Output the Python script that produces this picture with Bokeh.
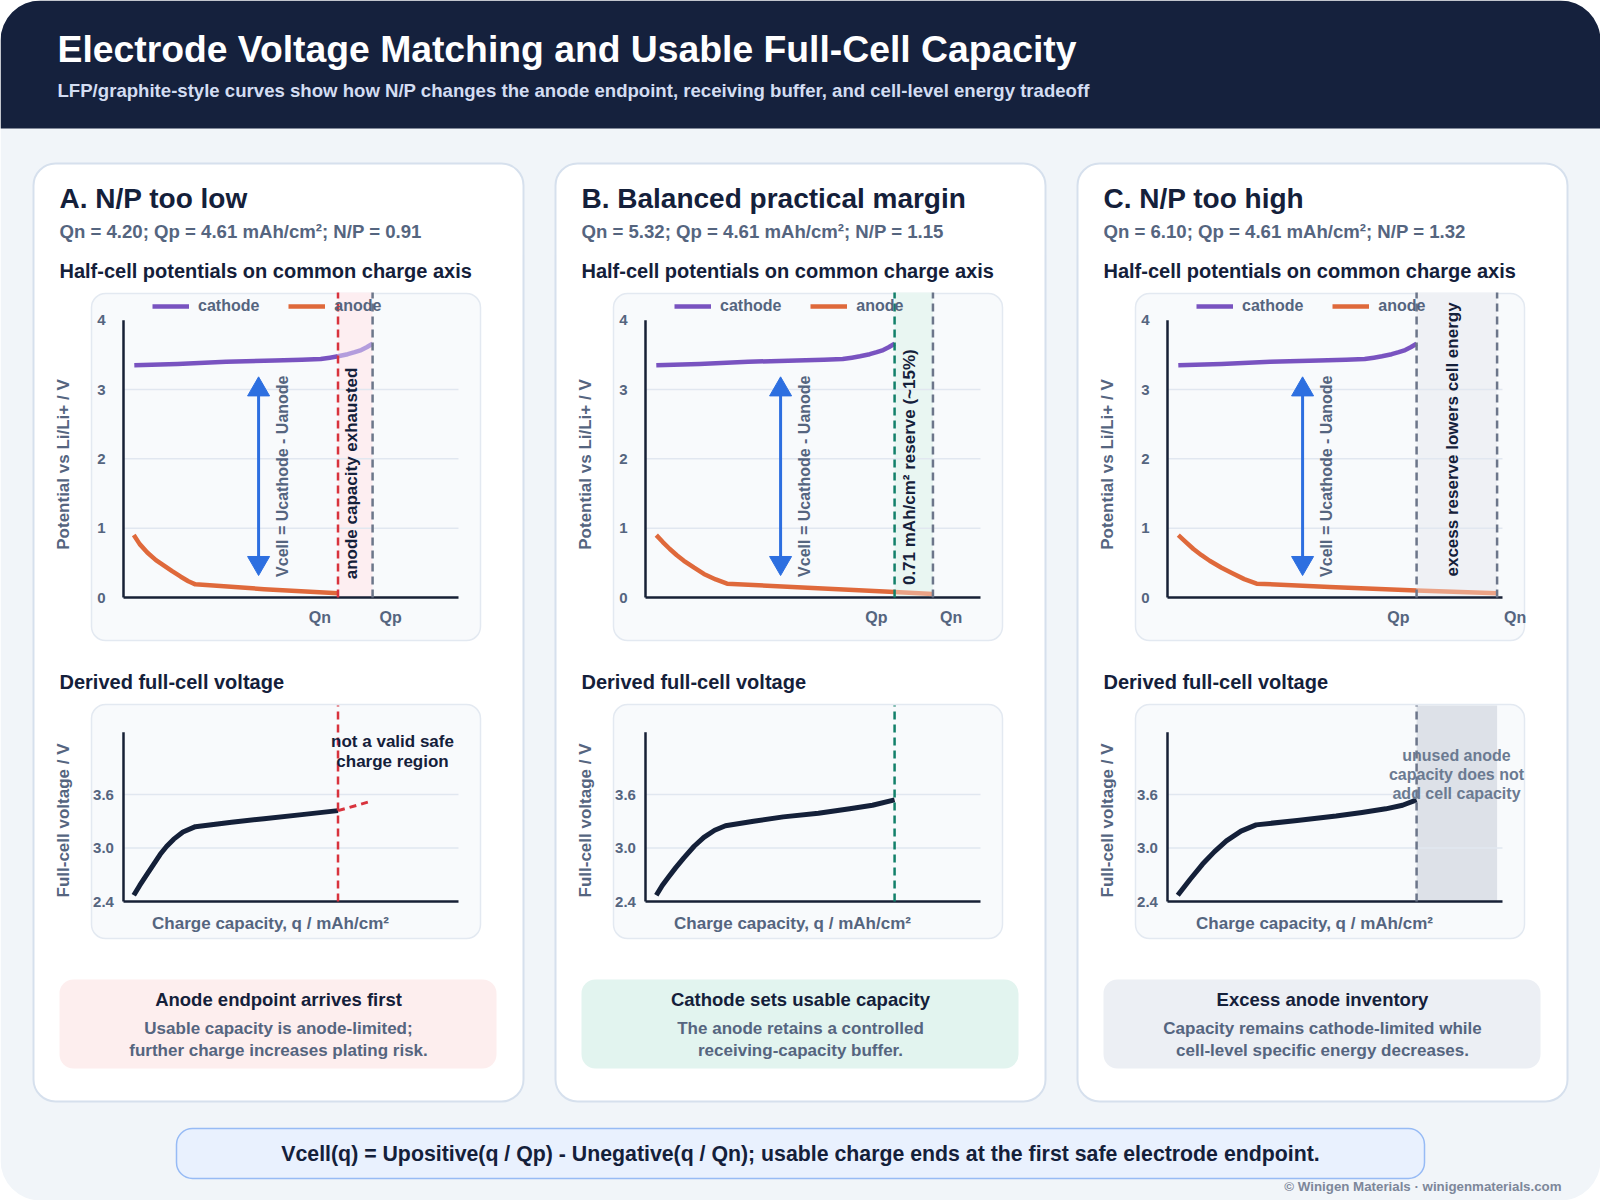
import math
from bokeh.plotting import figure
from bokeh.models import Range1d, BoxAnnotation, Legend, LegendItem
from bokeh.core.properties import value
from bokeh.embed import file_html
from bokeh.resources import INLINE

W, H = 1600, 1200
FONT = "Liberation Sans"

# ---------------- data ----------------
panel_titles = ["A. N/P too low", "B. Balanced practical margin", "C. N/P too high"]
qn_values = [4.20, 5.32, 6.10]          # mAh/cm2
qp_value = 4.61                          # mAh/cm2
np_ratios = [0.91, 1.15, 1.32]
qn_marks = [3.97, 5.32, 6.10]            # where the Qn marker sits on the charge axis
half_ticks = [0, 1, 2, 3, 4]
full_ticks = [2.4, 3.0, 3.6]
full_tick_labels = ["2.4", "3.0", "3.6"]

cathode_q = [0.20, 1.0, 1.9, 2.8, 3.3, 3.65, 3.82, 3.97, 4.15, 4.28, 4.40, 4.50, 4.61]
cathode_v = [3.35, 3.37, 3.40, 3.42, 3.43, 3.44, 3.46, 3.48, 3.51, 3.54, 3.57, 3.61, 3.66]

anode_A_q = [0.19, 0.30, 0.44, 0.60, 0.75, 0.90, 1.06, 1.20, 1.33, 2.6, 3.97]
anode_A_v = [0.90, 0.77, 0.65, 0.54, 0.46, 0.38, 0.30, 0.235, 0.19, 0.12, 0.06]
anode_B_q = [0.20, 0.32, 0.45, 0.58, 0.71, 0.90, 1.08, 1.30, 1.51, 3.0, 4.61]
anode_B_v = [0.90, 0.80, 0.70, 0.61, 0.53, 0.43, 0.34, 0.26, 0.20, 0.14, 0.08]
anode_B_ext_q = [4.61, 5.32]
anode_B_ext_v = [0.08, 0.05]
anode_C_q = [0.20, 0.34, 0.48, 0.63, 0.78, 1.00, 1.20, 1.42, 1.65, 3.0, 4.61]
anode_C_v = [0.90, 0.80, 0.70, 0.61, 0.53, 0.43, 0.35, 0.265, 0.20, 0.15, 0.10]
anode_C_ext_q = [4.61, 6.10]
anode_C_ext_v = [0.10, 0.06]

full_A_q = [0.19, 0.30, 0.44, 0.56, 0.68, 0.80, 0.93, 1.10, 1.33, 2.0, 2.6, 3.3, 3.97]
full_A_v = [2.47, 2.58, 2.71, 2.82, 2.93, 3.02, 3.10, 3.18, 3.24, 3.29, 3.33, 3.375, 3.42]
full_A_ext_q = [3.97, 4.61]
full_A_ext_v = [3.42, 3.53]
full_B_q = [0.20, 0.31, 0.42, 0.56, 0.71, 0.90, 1.08, 1.28, 1.48, 2.0, 2.55, 3.2, 3.78, 4.2, 4.61]
full_B_v = [2.47, 2.58, 2.67, 2.78, 2.89, 3.02, 3.12, 3.20, 3.25, 3.30, 3.35, 3.39, 3.44, 3.48, 3.54]
full_C_q = [0.19, 0.42, 0.65, 0.87, 1.09, 1.36, 1.64, 2.4, 3.12, 3.6, 4.04, 4.35, 4.61]
full_C_v = [2.47, 2.65, 2.82, 2.96, 3.08, 3.19, 3.26, 3.31, 3.36, 3.40, 3.44, 3.48, 3.54]

reserve_text = "0.71 mAh/cm\u00b2 reserve (~15%)"
box_titles = ["Anode endpoint arrives first", "Cathode sets usable capacity", "Excess anode inventory"]
box_lines = [["Usable capacity is anode-limited;", "further charge increases plating risk."],
             ["The anode retains a controlled", "receiving-capacity buffer."],
             ["Capacity remains cathode-limited while", "cell-level specific energy decreases."]]

# ---------------- styles ----------------
NAVY = "#15213d"
PAGE = "#f1f5f9"
DARK = "#14203a"
SLATE = "#55657f"
MUTED = "#6b7a91"
CATH = "#7953c0"
CATH_L = "#b39ddd"
ANOD = "#df693b"
ANOD_L = "#eaa286"
BLUE = "#2d6fe0"
RED = "#d8333d"
GREEN = "#12806a"
GRAYD = "#6c768a"
AXIS = "#172036"
GRID = "#e1e7f0"

p = figure(width=W, height=H, x_range=Range1d(0, W), y_range=Range1d(0, H),
           output_backend="svg", toolbar_location=None, min_border=0,
           x_axis_type=None, y_axis_type=None, background_fill_color="white",
           border_fill_color="white", outline_line_color=None)


def box(l, t, r, b, fill, line=None, lw=1.0, radius=0):
    p.add_layout(BoxAnnotation(left=l, right=r, top=H - t, bottom=H - b,
                               fill_color=fill, fill_alpha=1.0,
                               line_color=line if line else fill,
                               line_alpha=1.0 if line else 0.0, line_width=lw,
                               border_radius=radius, level="underlay"))


def label(x, y, s, size, color, align="left", baseline="middle", angle=0.0):
    p.text(x=[x], y=[H - y], text=[s], text_font=value(FONT), text_font_style="bold",
           text_font_size=f"{size}px", text_color=color, text_align=align,
           text_baseline=baseline, angle=angle)


def stext(g, x, y, s, size, color, align="center", baseline="middle", angle=0.0, xo=0, yo=0):
    g.text(x=x, y=y, text=s, text_font=value(FONT), text_font_style="bold",
           text_font_size=f"{size}px", text_color=color, text_align=align,
           text_baseline=baseline, angle=angle, x_offset=xo, y_offset=yo)


# page + header
box(0, 0, W, H, PAGE, radius=40)
box(0, 0, W, 128, NAVY, radius=(40, 40, 0, 0))
label(57, 48, "Electrode Voltage Matching and Usable Full-Cell Capacity", 37.3, "white")
label(57, 90, "LFP/graphite-style curves show how N/P changes the anode endpoint, receiving buffer, and cell-level energy tradeoff",
      18.6, "#d3ddf2")

card_x = [33, 555, 1077]
box_fills = ["#fdeeee", "#e2f4ef", "#eceff4"]
anodes = [(anode_A_q, anode_A_v, None, None),
          (anode_B_q, anode_B_v, anode_B_ext_q, anode_B_ext_v),
          (anode_C_q, anode_C_v, anode_C_ext_q, anode_C_ext_v)]
fulls = [(full_A_q, full_A_v), (full_B_q, full_B_v), (full_C_q, full_C_v)]

for i, cx in enumerate(card_x):
    qn = qn_values[i]
    qmark = qn_marks[i]
    # card
    box(cx, 163, cx + 490, 1101, "white", line="#d6e0ed", lw=2, radius=22)
    label(cx + 26, 198, panel_titles[i], 28, DARK)
    label(cx + 26, 231, f"Qn = {qn:.2f}; Qp = {qp_value:.2f} mAh/cm\u00b2; N/P = {np_ratios[i]:.2f}",
          18.6, SLATE)
    label(cx + 26, 270, "Half-cell potentials on common charge axis", 20, DARK)
    label(cx + 26, 681, "Derived full-cell voltage", 20, DARK)

    # ---------- half-cell chart ----------
    box(cx + 58, 293, cx + 447, 640, "#f8fafc", line="#e3e9f1", lw=1.5, radius=14)
    g = p.subplot(x_source=Range1d(0, 6.2), y_source=Range1d(0, 4.4),
                  x_target=Range1d(cx + 90, cx + 425), y_target=Range1d(H - 597, H - 292))
    lo, hi = min(qmark, qp_value), max(qmark, qp_value)
    band = ["#fdeef1", "#e9f6f2", "#eff1f5"][i]
    g.quad(left=[lo], right=[hi], bottom=[0], top=[4.4], fill_color=band, line_color=None)
    gy = [t for t in half_ticks if 0 < t < half_ticks[-1]]
    g.segment(x0=[0] * len(gy), y0=gy, x1=[6.2] * len(gy), y1=gy, line_color=GRID, line_width=1.5)
    g.segment(x0=[0, 0], y0=[0, 0], x1=[0, 6.2], y1=[half_ticks[-1], 0], line_color=AXIS, line_width=2.5)
    stext(g, [0] * len(half_ticks), half_ticks, [str(t) for t in half_ticks], 15, SLATE, xo=-22)

    aq, av, eq, ev = anodes[i]
    if i == 0:
        r_cat = g.line([q for q in cathode_q if q <= qmark], [v for q, v in zip(cathode_q, cathode_v) if q <= qmark],
                       line_color=CATH, line_width=4.5, line_join="round")
        g.line([q for q in cathode_q if q >= qmark], [v for q, v in zip(cathode_q, cathode_v) if q >= qmark],
               line_color=CATH_L, line_width=4.5, line_join="round")
        r_an = g.line(aq, av, line_color=ANOD, line_width=4.5, line_join="round")
    else:
        r_cat = g.line(cathode_q, cathode_v, line_color=CATH, line_width=4.5, line_join="round")
        g.line(eq, ev, line_color=ANOD_L, line_width=4.5)
        r_an = g.line(aq, av, line_color=ANOD, line_width=4.5, line_join="round")

    # double arrow Vcell
    g.segment(x0=[2.5], y0=[0.5], x1=[2.5], y1=[3.0], line_color=BLUE, line_width=3)
    g.scatter(x=[2.5], y=[3.0], marker="triangle", size=22, fill_color=BLUE, line_color=BLUE)
    g.scatter(x=[2.5], y=[0.5], marker="inverted_triangle", size=22, fill_color=BLUE, line_color=BLUE)
    stext(g, [2.5], [1.75], ["Vcell = Ucathode - Uanode"], 16, SLATE, angle=math.pi / 2, xo=24)

    # endpoint markers
    if i == 0:
        cols = {qmark: RED, qp_value: GRAYD}
        names = {qmark: "Qn", qp_value: "Qp"}
        band_txt, band_y = "anode capacity exhausted", 1.79
    elif i == 1:
        cols = {qp_value: GREEN, qmark: GRAYD}
        names = {qp_value: "Qp", qmark: "Qn"}
        band_txt, band_y = reserve_text, 1.88
    else:
        cols = {qp_value: GRAYD, qmark: GRAYD}
        names = {qp_value: "Qp", qmark: "Qn"}
        band_txt, band_y = "excess reserve lowers cell energy", 2.28
    for q, c in cols.items():
        g.segment(x0=[q], y0=[0], x1=[q], y1=[4.4], line_color=c, line_width=2.5, line_dash="8 5")
    stext(g, [lo], [0], [names[lo]], 16, SLATE, align="right", xo=-7, yo=20)
    stext(g, [hi], [0], [names[hi]], 16, SLATE, align="left", xo=7, yo=20)
    stext(g, [(lo + hi) / 2], [band_y], [band_txt], 17, DARK, angle=math.pi / 2, xo=-4)

    p.add_layout(Legend(items=[LegendItem(label=value("cathode"), renderers=[r_cat]),
                               LegendItem(label=value("anode"), renderers=[r_an])],
                        location=(cx + 119, H - 315), orientation="horizontal",
                        glyph_width=37, glyph_height=16, label_height=16, label_standoff=9,
                        spacing=29, padding=0, margin=0, background_fill_alpha=0,
                        border_line_alpha=0, label_text_font=FONT, label_text_font_style="bold",
                        label_text_font_size="16px", label_text_color=SLATE))
    label(cx + 30, 464, "Potential vs Li/Li+ / V", 17, SLATE, align="center", angle=math.pi / 2)

    # ---------- full-cell chart ----------
    box(cx + 58, 704, cx + 447, 938, "#f8fafc", line="#e3e9f1", lw=1.5, radius=14)
    f = p.subplot(x_source=Range1d(0, 6.2), y_source=Range1d(2.4, 4.6),
                  x_target=Range1d(cx + 90, cx + 425), y_target=Range1d(H - 901, H - 705))
    if i == 2:
        f.quad(left=[qp_value], right=[qmark], bottom=[2.4], top=[4.6], fill_color="#dde1e8", line_color=None)
    fy = full_ticks[1:]
    f.segment(x0=[0] * len(fy), y0=fy, x1=[6.2] * len(fy), y1=fy, line_color=GRID, line_width=1.5)
    f.segment(x0=[0, 0], y0=[2.4, 2.4], x1=[0, 6.2], y1=[4.3, 2.4], line_color=AXIS, line_width=2.5)
    stext(f, [0] * len(full_ticks), full_ticks, full_tick_labels, 15, SLATE, xo=-20)
    fq, fv = fulls[i]
    f.line(fq, fv, line_color="#142039", line_width=5, line_join="round")
    if i == 0:
        f.line(full_A_ext_q, full_A_ext_v, line_color=RED, line_width=3, line_dash="7 5")
        f.segment(x0=[qmark], y0=[2.4], x1=[qmark], y1=[4.6], line_color=RED, line_width=2.5, line_dash="8 5")
        label(cx + 359, 741, "not a valid safe", 17, DARK, align="center")
        label(cx + 359, 761, "charge region", 17, DARK, align="center")
    elif i == 1:
        f.segment(x0=[qp_value], y0=[2.4], x1=[qp_value], y1=[4.6], line_color=GREEN, line_width=2.5, line_dash="8 5")
    else:
        f.segment(x0=[qp_value], y0=[2.4], x1=[qp_value], y1=[4.6], line_color=GRAYD, line_width=2.5, line_dash="8 5")
        for k, s in enumerate(["unused anode", "capacity does not", "add cell capacity"]):
            label(cx + 379, 755 + 19 * k, s, 16, MUTED, align="center")
    label(cx + 30, 820, "Full-cell voltage / V", 17, SLATE, align="center", angle=math.pi / 2)
    label(cx + 237, 923, "Charge capacity, q / mAh/cm\u00b2", 17, SLATE, align="center")

    # ---------- takeaway box ----------
    box(cx + 26, 979, cx + 463, 1068, box_fills[i], radius=14)
    label(cx + 245, 999, box_titles[i], 18.5, DARK, align="center")
    label(cx + 245, 1028, box_lines[i][0], 17, SLATE, align="center")
    label(cx + 245, 1050, box_lines[i][1], 17, SLATE, align="center")

# footer
box(176, 1128, 1424, 1178, "#e9f1fe", line="#97bbf5", lw=1.5, radius=16)
label(800, 1153, "Vcell(q) = Upositive(q / Qp) - Unegative(q / Qn); usable charge ends at the first safe electrode endpoint.",
      21.3, DARK, align="center")
label(1561, 1186, "\u00a9 Winigen Materials \u00b7 winigenmaterials.com", 13.3, "#7d879a", align="right")

open("out.html", "w").write(file_html(p, INLINE))
